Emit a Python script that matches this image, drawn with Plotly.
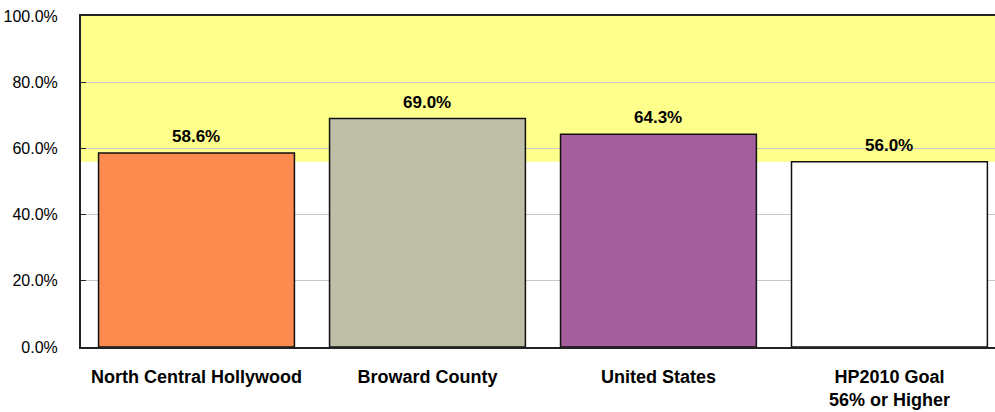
import plotly.graph_objects as go

# Chart data
categories = ["North Central Hollywood", "Broward County", "United States", "HP2010 Goal"]
tick_labels = ["North Central Hollywood", "Broward County", "United States",
               "HP2010 Goal<br>56% or Higher"]
values = [0.586, 0.690, 0.643, 0.560]
bar_colors = ["#FD8A4E", "#BFBFA7", "#A55F9F", "#FFFFFF"]
goal_value = 0.56
y_ticks = [0.0, 0.2, 0.4, 0.6, 0.8, 1.0]

FONT = "Liberation Sans, Arial, sans-serif"
x_pos = list(range(len(categories)))

fig = go.Figure()
fig.add_trace(go.Bar(
    x=x_pos,
    y=values,
    width=0.848,
    marker=dict(color=bar_colors, line=dict(color="#111111", width=1.5)),
    hoverinfo="skip",
    showlegend=False,
))

# Value labels above each bar
for xp, v in zip(x_pos, values):
    fig.add_annotation(
        x=xp, y=v, xref="x", yref="y",
        text=f"<b>{v * 100:.1f}%</b>",
        showarrow=False, yanchor="bottom", yshift=5,
        font=dict(family=FONT, size=17, color="#000000"),
    )

# Target zone: goal value and above
fig.add_shape(
    type="rect", xref="paper", yref="y",
    x0=0, x1=1, y0=goal_value, y1=1.0,
    fillcolor="#FFFF8C", line=dict(width=0), layer="below",
)

fig.update_layout(
    width=995, height=412,
    margin=dict(l=81, r=0, t=16, b=65),
    paper_bgcolor="#FFFFFF",
    plot_bgcolor="#FFFFFF",
    font=dict(family=FONT, color="#000000"),
)

fig.update_xaxes(
    range=[-0.5, 3.457],
    tickvals=x_pos,
    ticktext=[f"<b>{t}</b>" for t in tick_labels],
    tickfont=dict(size=18, color="#000000"),
    showgrid=False,
    ticks="",
    ticklabelstandoff=12,
    showline=True, linecolor="#222222", linewidth=2, mirror=True,
    zeroline=False,
)

fig.update_yaxes(
    range=[0, 1.0],
    tickvals=y_ticks,
    tickformat=".1%",
    tickfont=dict(size=16, color="#000000"),
    showgrid=True, gridcolor="#C8C8C8", gridwidth=1,
    ticks="inside", ticklen=5, tickcolor="#222222",
    ticklabelstandoff=18,
    showline=True, linecolor="#222222", linewidth=2, mirror=False,
    zeroline=False,
)

fig.write_html("out.html")
